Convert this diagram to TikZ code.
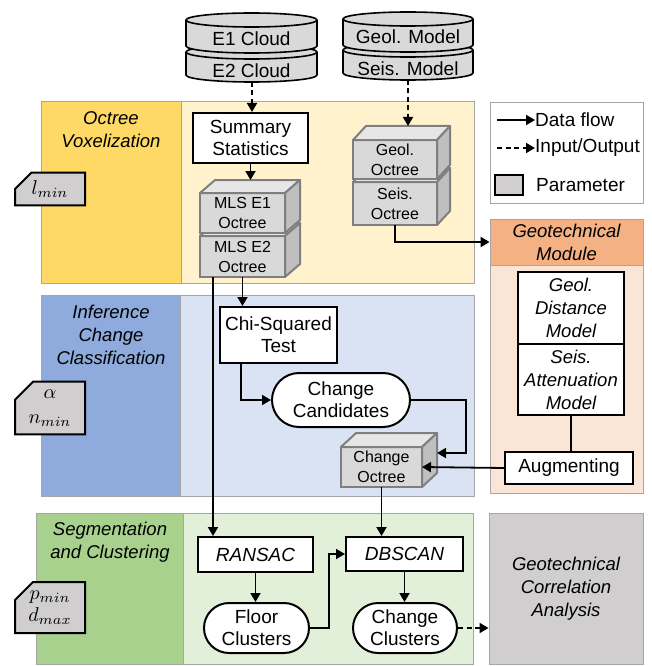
\documentclass[tikz,border=0pt]{standalone}
\usepackage{graphicx}
\usepackage{fontspec}
\setmainfont{Liberation Sans}
\usetikzlibrary{arrows.meta,calc,shapes.misc}
\definecolor{ydark}{HTML}{FFD966}
\definecolor{ylight}{HTML}{FFF2CC}
\definecolor{bdark}{HTML}{8FAADC}
\definecolor{blight}{HTML}{DAE3F3}
\definecolor{gdark}{HTML}{A9D18E}
\definecolor{glight}{HTML}{E2F0D9}
\definecolor{odark}{HTML}{F4B183}
\definecolor{olight}{HTML}{FBE5D6}
\definecolor{gcagray}{HTML}{D0CECE}
\definecolor{parfill}{HTML}{D0CECE}
\definecolor{cylfill}{HTML}{D9D9D9}
\definecolor{cubefr}{HTML}{D9D9D9}
\definecolor{cubetp}{HTML}{E7E6E6}
\definecolor{cubesd}{HTML}{BFBFBF}
\definecolor{cubeb}{HTML}{7F7F7F}
\definecolor{bandb}{HTML}{A6A6A6}
\newcommand\mkcyl[5]{%
  \filldraw[cylst] ({#1-#4},{-#2}) -- ({#1-#4},{-#3})
    arc[start angle=180,end angle=360,x radius=#4pt,y radius=#5pt]
    -- ({#1+#4},{-#2})
    arc[start angle=0,end angle=180,x radius=#4pt,y radius=#5pt] -- cycle;
  \draw[cylst] ({#1-#4},{-#2}) arc[start angle=180,end angle=360,x radius=#4pt,y radius=#5pt];}
\newcommand\mkcube[3]{%
  \filldraw[cubetop] (#1.north west) -- ++(#2,#3) -- ($(#1.north east)+(#2,#3)$) -- (#1.north east) -- cycle;
  \filldraw[cubeside] (#1.north east) -- ++(#2,#3) -- ($(#1.south east)+(#2,#3)$) -- (#1.south east) -- cycle;}
\newcommand\parmath[1]{\scalebox{2.0}{$#1$}}
\tikzset{
  txt/.style={font=\fontsize{19}{22}\selectfont, align=center, inner sep=0pt},
  box/.style={txt, draw=black, line width=2pt, fill=white},
  pill/.style={box, rounded rectangle},
  cubef/.style={draw=cubeb, line width=2pt, fill=cubefr, align=center, inner sep=0pt, outer sep=0pt, font=\fontsize{16}{20}\selectfont},
  cubetop/.style={draw=cubeb, line width=2pt, fill=cubetp, line join=round},
  cubeside/.style={draw=cubeb, line width=2pt, fill=cubesd, line join=round},
  cylst/.style={draw=black, line width=1.6pt, fill=cylfill},
  flow/.style={line width=1.8pt, -{Triangle[length=9pt,width=10pt]}},
  plain/.style={line width=1.8pt},
  io/.style={flow, dash pattern=on 5pt off 3.5pt},
  band/.style={draw=bandb, line width=0.9pt},
  title/.style={txt, font=\fontsize{18.5}{23}\selectfont\itshape},
  param/.style={draw=black, line width=2pt, fill=parfill, chamfered rectangle, chamfered rectangle corners=north west, chamfered rectangle xsep=10pt, chamfered rectangle ysep=8pt, inner sep=0pt, align=center, font=\fontsize{10}{22}\selectfont},
}
\begin{document}
\begin{tikzpicture}[x=1pt,y=1pt]
\useasboundingbox (0,0) rectangle (651,-666);
% ---------- bands ----------
\draw[band, fill=ydark] (41,-101) rectangle (181,-283);
\draw[band, fill=ylight] (181,-101) rectangle (474,-283);
\draw[band, fill=bdark] (41,-295) rectangle (180,-496);
\draw[band, fill=blight] (180,-295) rectangle (474,-496);
\draw[band, fill=gdark] (36,-513) rectangle (183,-664);
\draw[band, fill=glight] (183,-513) rectangle (473,-664);
\draw[band, fill=olight] (490,-265) rectangle (643,-493);
\node[band, fill=odark, minimum width=153pt, minimum height=46pt, title] (geoh) at (566.5,-242) {Geotechnical\\Module};
\node[band, fill=gcagray, minimum width=154pt, minimum height=151pt, title] (gca) at (566,-588.5) {Geotechnical\\Correlation\\Analysis};
% ---------- titles ----------
\node[title] (t1) at (111,-130) {Octree\\Voxelization};
\node[title] (t2) at (111,-335) {Inference\\Change\\Classification};
\node[title] (t3) at (110,-542) {Segmentation\\and Clustering};
% ---------- parameters ----------
\node[param, minimum width=70pt, minimum height=32pt] (p1) at (50,-189) {\parmath{l_{min}}};
\node[param, minimum width=70pt, minimum height=52pt] (p2) at (50,-408) {\parmath{\alpha}\\[3pt]\parmath{n_{min}}};
\node[param, minimum width=70pt, minimum height=51pt] (p3) at (50,-607.5) {\parmath{p_{min}}\\[0pt]\parmath{d_{max}}};
% ---------- legend ----------
\node[band, fill=white, minimum width=153pt, minimum height=101pt] (leg) at (566.5,-152.5) {};
\coordinate (la1) at (497,-120);
\coordinate (la2) at (497,-148);
\node[txt, anchor=west] (ldf) at (535,-120) {Data flow};
\node[txt, anchor=west] (lio) at (535,-148) {Input/Output};
\draw[flow] (la1) -- (ldf.west);
\draw[io] (la2) -- (lio.west);
\node[param, minimum width=28pt, minimum height=20pt, chamfered rectangle xsep=7pt, chamfered rectangle ysep=6pt] (lpar) at (509,-185) {};
\node[txt, anchor=west] (lpt) at (536,-185) {Parameter};
% ---------- cylinders ----------
\mkcyl{251.5}{52}{75}{65.5}{7}
\mkcyl{251.5}{20}{46}{65.5}{7}
\node[txt] (e1) at (251.5,-39) {E1 Cloud};
\node[txt] (e2) at (251.5,-71) {E2 Cloud};
\mkcyl{408}{50}{73}{65}{7}
\mkcyl{408}{19}{45}{65}{7}
\node[txt] (gm) at (408,-37) {Geol. Model};
\node[txt] (sm) at (408,-69) {Seis. Model};
\coordinate (e2b) at (252,-82);
\coordinate (smb) at (408,-80);
% ---------- octree voxelization ----------
\node[box, minimum width=115pt, minimum height=50pt] (summ) at (250.5,-138) {Summary\\Statistics};
\node[cubef, minimum width=85pt, minimum height=41pt] (mls2) at (242.5,-256.5) {MLS E2\\Octree};
\mkcube{mls2}{15}{13}
\node[cubef, minimum width=85pt, minimum height=40pt] (mls1) at (242.5,-213) {MLS E1\\Octree};
\mkcube{mls1}{15}{13}
\coordinate (mls1top) at ($(mls1.north)+(7.5,13)$);
\node[cubef, minimum width=84pt, minimum height=43pt] (seiso) at (395,-203.5) {Seis.\\Octree};
\mkcube{seiso}{13}{14}
\node[cubef, minimum width=84pt, minimum height=39pt] (geolo) at (395,-159.5) {Geol.\\Octree};
\mkcube{geolo}{13}{14}
\coordinate (geotop) at ($(geolo.north)+(13,14)$);
% ---------- geotechnical module ----------
\node[box, font=\fontsize{18.5}{23}\selectfont\itshape, minimum width=106pt, minimum height=72pt] (geold) at (571,-308) {Geol.\\Distance\\Model};
\node[box, font=\fontsize{18.5}{23}\selectfont\itshape, minimum width=106pt, minimum height=71pt] (seisa) at (571,-379.5) {Seis.\\Attenuation\\Model};
\node[box, minimum width=128pt, minimum height=32pt] (aug) at (569,-468) {Augmenting};
% ---------- inference ----------
\node[box, minimum width=117pt, minimum height=56pt] (chi) at (278.5,-335) {Chi-Squared\\Test};
\node[pill, minimum width=138pt, minimum height=54pt] (cand) at (341,-400) {Change\\Candidates};
\node[cubef, minimum width=81pt, minimum height=40pt] (chgo) at (381.5,-467) {Change\\Octree};
\mkcube{chgo}{15}{14}
\coordinate (chgor) at (437,-453);
% ---------- segmentation ----------
\node[box, font=\fontsize{19}{22}\selectfont\itshape, minimum width=115pt, minimum height=35pt] (ransac) at (255.5,-554.5) {RANSAC};
\node[pill, minimum width=105pt, minimum height=50pt] (floor) at (256.5,-628) {Floor\\Clusters};
\node[box, font=\fontsize{19}{22}\selectfont\itshape, minimum width=117pt, minimum height=34pt] (dbscan) at (404.5,-554) {DBSCAN};
\node[pill, minimum width=104pt, minimum height=50pt] (chcl) at (405,-628) {Change\\Clusters};
% ---------- connectors ----------
\draw[io] (e2b) -- (e2b |- summ.north);
\draw[io] (smb) -- (smb |- geotop);
\draw[flow] (summ.south) -- (summ.south |- mls1top);
\draw[flow] (mls2.south) -- (mls2.south |- chi.north);
\coordinate (mlsl) at ($(mls2.south west)+(13,0)$);
\draw[flow] (mlsl) -- (mlsl |- ransac.north);
\draw[flow] (seiso.south) |- (geoh.west);
\coordinate (chis) at ($(chi.south west)+(22,0)$);
\draw[flow] (chis) |- (cand.west);
\draw[flow] (cand.east) -- ++(55,0) |- (chgor);
\draw[plain] (seisa.south) -- (seisa.south |- aug.north);
\draw[flow] (aug.west) -- (chgo.east);
\draw[flow] (chgo.south) -- (chgo.south |- dbscan.north);
\draw[flow] (ransac.south) -- (ransac.south |- floor.north);
\draw[flow] (floor.east) -- ++(19,0) |- (dbscan.west);
\draw[flow] (dbscan.south) -- (dbscan.south |- chcl.north);
\draw[io] (chcl.east) -- (chcl.east -| gca.west);
\end{tikzpicture}
\end{document}
